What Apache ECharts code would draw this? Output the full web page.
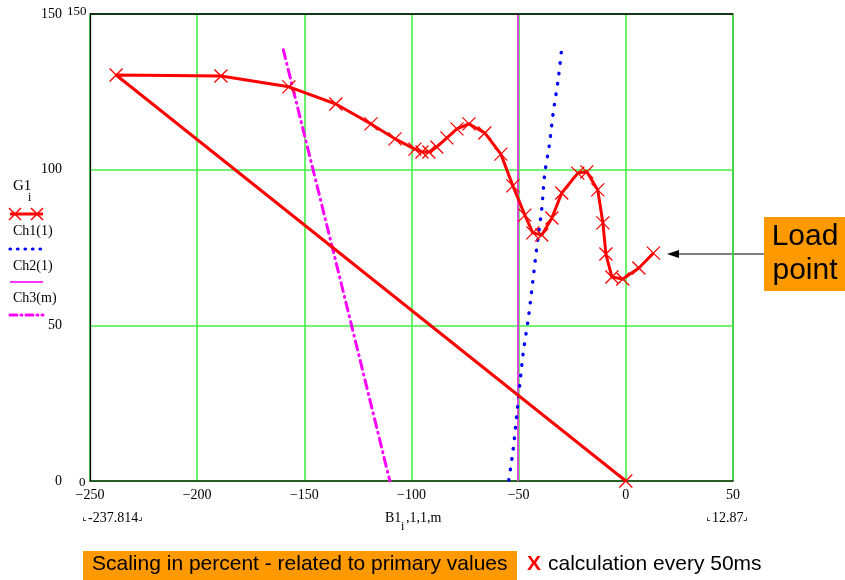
<!DOCTYPE html>
<html>
<head>
<meta charset="utf-8">
<script src="https://cdn.jsdelivr.net/npm/echarts@6/dist/echarts.min.js"></script>
<style>
  html, body { margin: 0; padding: 0; background: #fff; }
  #chart { width: 845px; height: 580px; }
</style>
</head>
<body>
<div id="chart"></div>
<script>
// G1 curve (first point is the origin, then the trace from the start to the load point)
const g1X = [0, -237.814, -188.9, -157.2, -135.3, -118.9, -107.7, -98.4, -95.1, -91.9, -88.2, -83.5, -78.8, -73.2, -65.8, -58.3, -52.7, -47.1, -43.4, -39.2, -34.5, -29.9, -22.4, -18.2, -13.1, -10.7, -9.3, -6.5, -1.4, 6.1, 12.87];
const g1Y = [0, 130.4, 130.1, 126.6, 121.1, 114.7, 109.9, 106.6, 105.7, 105.7, 107.3, 110.2, 113.1, 114.7, 111.8, 105.0, 94.8, 85.4, 79.7, 79.0, 84.5, 92.5, 98.9, 99.3, 93.5, 82.9, 72.9, 65.5, 64.9, 68.4, 73.2];

// Ch1 characteristic (blue dotted)
const ch1X = [-54.6, -52.6, -51.0, -49.4, -47.9, -45.6, -43.5, -41.7, -39.3, -37.8, -35.8, -33.9, -31.6, -29.7];
const ch1Y = [0.3, 10.0, 20.6, 31.5, 41.1, 51.7, 63.6, 74.2, 87.1, 98.9, 107.3, 118.2, 128.8, 140.4];

// Ch2 characteristic (vertical magenta)
const ch2X = [-50.3, -50.3];
const ch2Y = [0, 150];

// Ch3 characteristic (magenta dash-dot)
const ch3X = [-159.8, -135.7, -110.1];
const ch3Y = [138.5, 71.6, 0];

const xTicks = [-250, -200, -150, -100, -50, 0, 50];
const yTicks = [0, 50, 100, 150];

function pairs(xs, ys) {
  return xs.map((x, i) => [x, ys[i]]);
}

const crossPath = 'path://M0,0L10,10M10,0L0,10';
const serif = 'Liberation Serif';
const gridGreen = '#44ee44';

const chart = echarts.init(document.getElementById('chart'));

const legendItems = [];
function legendText(x, y, text, size) {
  legendItems.push({
    type: 'text', left: x, top: y,
    style: { text: text, font: (size || 14) + 'px ' + serif, fill: '#000' }
  });
}
function legendLine(y, color, width, dash) {
  legendItems.push({
    type: 'line',
    shape: { x1: 10, y1: y, x2: 43, y2: y },
    style: { stroke: color, lineWidth: width, lineDash: dash || null, lineCap: dash ? 'round' : 'butt' }
  });
}
legendText(13, 179, 'G1', 15);
legendText(28, 192, 'i', 12);
legendLine(214, '#ff0000', 3);
[15, 37].forEach(cx => {
  legendItems.push({
    type: 'polyline', shape: { points: [[cx - 6, 208], [cx + 6, 220]] },
    style: { stroke: '#ff0000', lineWidth: 1.5 }
  });
  legendItems.push({
    type: 'polyline', shape: { points: [[cx + 6, 208], [cx - 6, 220]] },
    style: { stroke: '#ff0000', lineWidth: 1.5 }
  });
});
legendText(13, 224, 'Ch1(1)');
legendLine(249, '#0000ff', 3.2, [0.5, 7]);
legendText(13, 259, 'Ch2(1)');
legendLine(282, '#ff33ff', 2);
legendText(13, 291, 'Ch3(m)');
legendLine(315, '#ff00ff', 3, [7, 4, 1, 4]);

const option = {
  animation: false,
  backgroundColor: '#fff',
  grid: {
    left: 90, right: 112, top: 14, bottom: 99,
    show: true, borderColor: '#000', borderWidth: 1.2
  },
  xAxis: {
    type: 'value',
    min: -250, max: 50, interval: 50,
    axisLine: { show: true, onZero: false, lineStyle: { color: '#1a3a1a', width: 1.5 } },
    axisTick: { show: false },
    splitLine: { show: true, lineStyle: { color: [gridGreen], width: 1.6, opacity: 1 } },
    axisLabel: {
      margin: 7,
      fontFamily: serif, fontSize: 14, color: '#000',
      formatter: v => (v < 0 ? '\u2212' + (-v) : String(v))
    }
  },
  yAxis: {
    type: 'value',
    min: 0, max: 150, interval: 50,
    axisLine: { show: true, onZero: false, lineStyle: { color: '#000', width: 1.2 } },
    axisTick: { show: false },
    splitLine: { show: true, lineStyle: { color: [gridGreen], width: 1.6, opacity: 1 } },
    axisLabel: {
      margin: 28,
      fontFamily: serif, fontSize: 14, color: '#000',
      formatter: v => (yTicks.includes(v) ? String(v) : '')
    }
  },
  series: [
    {
      name: 'G1',
      type: 'line',
      data: pairs(g1X, g1Y),
      lineStyle: { color: '#ff0000', width: 3 },
      symbol: crossPath,
      symbolSize: 13,
      itemStyle: { color: 'none', borderColor: '#ff0000', borderWidth: 1.3 },
      clip: true,
      z: 5
    },
    {
      name: 'Ch1(1)',
      type: 'line',
      data: pairs(ch1X, ch1Y),
      smooth: 0.3,
      symbol: 'none',
      lineStyle: { color: '#0000ff', width: 3.4, type: [0.5, 10], cap: 'round' },
      z: 4
    },
    {
      name: 'Ch2(1)',
      type: 'line',
      data: pairs(ch2X, ch2Y),
      symbol: 'none',
      lineStyle: { color: '#dd44dd', width: 2 },
      z: 3
    },
    {
      name: 'Ch3(m)',
      type: 'line',
      data: pairs(ch3X, ch3Y),
      symbol: 'none',
      lineStyle: { color: '#ff00ff', width: 3, type: [9, 5, 1, 5], cap: 'round' },
      z: 3
    }
  ],
  graphic: legendItems.concat([
    // black frame on top of the plot area
    { type: 'line', z: 10, shape: { x1: 90, y1: 14, x2: 733, y2: 14 }, style: { stroke: '#000', lineWidth: 1.5 } },
    // axis limit labels
    { type: 'text', left: 67, top: 5, style: { text: '150', font: '13px ' + serif, fill: '#000' } },
    { type: 'text', left: 79, top: 476, style: { text: '0', font: '13px ' + serif, fill: '#000' } },
    // x range / variable labels below the axis
    { type: 'text', left: 82, top: 512, style: { text: '\u231E', font: '10px "DejaVu Sans"', fill: '#000' } },
    { type: 'text', left: 88, top: 511, style: { text: '-237.814', font: '14px ' + serif, fill: '#000' } },
    { type: 'text', left: 138, top: 512, style: { text: '\u231F', font: '10px "DejaVu Sans"', fill: '#000' } },
    { type: 'text', left: 385, top: 511, style: { text: 'B1', font: '14px ' + serif, fill: '#000' } },
    { type: 'text', left: 401, top: 521, style: { text: 'i', font: '12px ' + serif, fill: '#000' } },
    { type: 'text', left: 406, top: 511, style: { text: ',1,1,m', font: '14px ' + serif, fill: '#000' } },
    { type: 'text', left: 706, top: 512, style: { text: '\u231E', font: '10px "DejaVu Sans"', fill: '#000' } },
    { type: 'text', left: 712, top: 511, style: { text: '12.87', font: '14px ' + serif, fill: '#000' } },
    { type: 'text', left: 743, top: 512, style: { text: '\u231F', font: '10px "DejaVu Sans"', fill: '#000' } },
    // load point callout
    { type: 'rect', shape: { x: 764, y: 217, width: 81, height: 74 }, style: { fill: '#ff9900' } },
    { type: 'text', x: 805, y: 222, style: { text: 'Load', font: '30px "Liberation Sans"', fill: '#000', align: 'center', verticalAlign: 'top' } },
    { type: 'text', x: 805, y: 256, style: { text: 'point', font: '30px "Liberation Sans"', fill: '#000', align: 'center', verticalAlign: 'top' } },
    { type: 'line', shape: { x1: 764, y1: 254, x2: 676, y2: 254 }, style: { stroke: '#000', lineWidth: 1.2 } },
    { type: 'polygon', shape: { points: [[667, 254], [679, 250], [679, 258]] }, style: { fill: '#000' } },
    // bottom notes
    { type: 'rect', shape: { x: 83, y: 551, width: 434, height: 29 }, style: { fill: '#ff9900' } },
    { type: 'text', left: 92, top: 554, style: { text: 'Scaling in percent - related to primary values', font: '21px "Liberation Sans"', fill: '#000' } },
    { type: 'text', left: 527, top: 554, style: { text: 'X', font: 'bold 21px "Liberation Sans"', fill: '#ff0000' } },
    { type: 'text', left: 548, top: 554, style: { text: 'calculation every 50ms', font: '21px "Liberation Sans"', fill: '#000' } }
  ])
};

chart.setOption(option);
</script>
</body>
</html>
